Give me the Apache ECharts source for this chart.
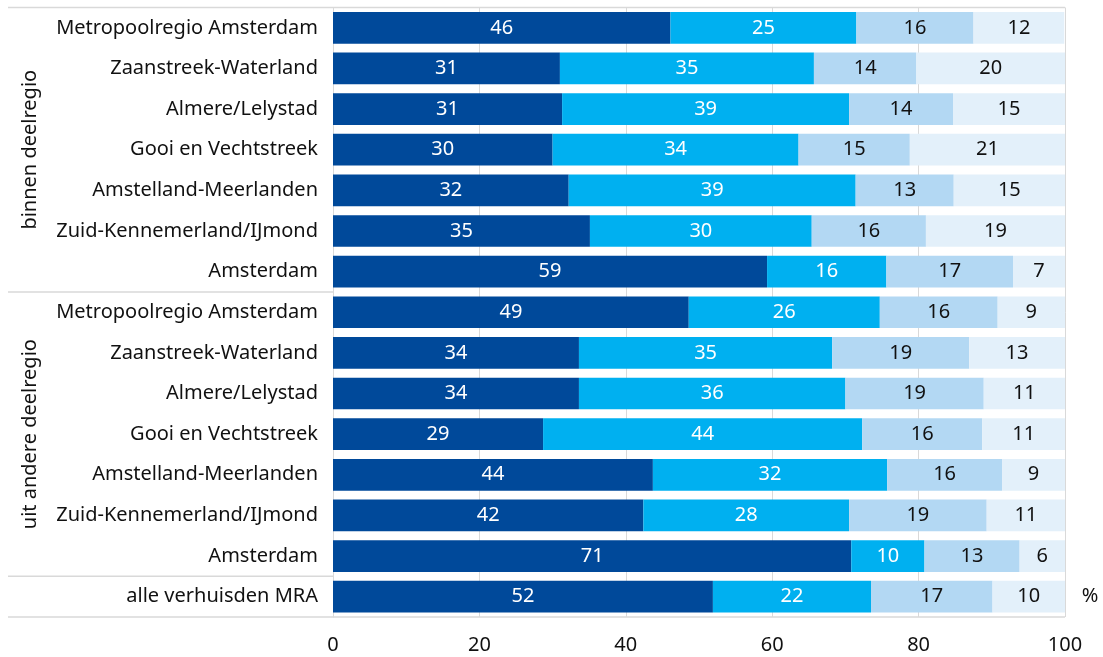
<!DOCTYPE html>
<html>
<head>
<meta charset="utf-8">
<script src="https://cdn.jsdelivr.net/npm/echarts@6/dist/echarts.min.js"></script>
<style>
html,body{margin:0;padding:0;background:#fff;}
#c{width:1103px;height:657px;}
</style>
</head>
<body>
<div id="c"></div>
<script>
const categories = [
  'Metropoolregio Amsterdam','Zaanstreek-Waterland','Almere/Lelystad','Gooi en Vechtstreek',
  'Amstelland-Meerlanden','Zuid-Kennemerland/IJmond','Amsterdam',
  'Metropoolregio Amsterdam','Zaanstreek-Waterland','Almere/Lelystad','Gooi en Vechtstreek',
  'Amstelland-Meerlanden','Zuid-Kennemerland/IJmond','Amsterdam',
  'alle verhuisden MRA'
];
const groupNames = ['binnen deelregio', 'uit andere deelregio'];
const groupStart = [0, 7];
const groupEnd = [6, 13];
const xTicks = [0, 20, 40, 60, 80, 100];

const serie1 = [46.1, 31.0, 31.3, 30.0, 32.2, 35.1, 59.3, 48.6, 33.6, 33.6, 28.7, 43.7, 42.4, 70.8, 51.9];
const serie2 = [25.4, 34.7, 39.2, 33.6, 39.2, 30.3, 16.3, 26.1, 34.6, 36.4, 43.6, 32.0, 28.1, 10.0, 21.6];
const serie3 = [16.0, 14.0, 14.2, 15.2, 13.4, 15.6, 17.3, 16.1, 18.7, 18.9, 16.4, 15.7, 18.8, 13.0, 16.6];
const serie4 = [12.4, 20.3, 15.3, 21.2, 15.2, 19.0, 7.1, 9.2, 13.1, 11.1, 11.3, 8.6, 10.7, 6.2, 9.9];

const colors = ['#00499A', '#00B0F0', '#B3D8F3', '#E3F0FA'];
const labelColors = ['#ffffff', '#ffffff', '#111111', '#111111'];
const FONT = 'Noto Sans';
const FS = 20;

const chart = echarts.init(document.getElementById('c'), null, {renderer: 'canvas'});

function mkSeries(data, i) {
  return {
    type: 'bar',
    stack: 'total',
    data: data,
    barCategoryGap: '22%',
    itemStyle: {color: colors[i]},
    label: {
      show: true,
      position: 'inside',
      color: labelColors[i],
      fontFamily: FONT,
      fontSize: FS,
      formatter: p => String(Math.round(p.value))
    },
    emphasis: {disabled: true},
    animation: false
  };
}

chart.setOption({
  animation: false,
  grid: {left: 333, right: 38, top: 7.5, bottom: 40, containLabel: false},
  xAxis: {
    type: 'value', min: 0, max: 100, interval: 20,
    axisLine: {show: false},
    axisTick: {show: false},
    splitLine: {show: true, lineStyle: {color: '#d9d9d9', width: 1}},
    axisLabel: {
      color: '#111', fontFamily: FONT, fontSize: FS, margin: 18,
      formatter: v => xTicks.indexOf(v) >= 0 ? String(v) : ''
    }
  },
  yAxis: {
    type: 'category', inverse: true, data: categories,
    axisLine: {show: true, lineStyle: {color: '#d9d9d9', width: 1}},
    axisTick: {show: false},
    axisLabel: {color: '#111', fontFamily: FONT, fontSize: FS, margin: 15}
  },
  series: [mkSeries(serie1, 0), mkSeries(serie2, 1), mkSeries(serie3, 2), mkSeries(serie4, 3)]
});

// structural decorations computed from the axes
const yc = i => chart.convertToPixel({yAxisIndex: 0}, i);
const x0 = chart.convertToPixel({xAxisIndex: 0}, 0);
const x100 = chart.convertToPixel({xAxisIndex: 0}, 100);
const pitch = yc(1) - yc(0);
const topY = yc(0) - pitch / 2;
const botY = yc(categories.length - 1) + pitch / 2;
const lineStyle = {stroke: '#d9d9d9', lineWidth: 1.5};
const elements = [];
elements.push({type: 'line', shape: {x1: 8, y1: topY, x2: x100, y2: topY}, style: lineStyle, silent: true});
elements.push({type: 'line', shape: {x1: 8, y1: botY, x2: x100, y2: botY}, style: lineStyle, silent: true});
for (let g = 0; g < groupNames.length; g++) {
  const yb = yc(groupEnd[g]) + pitch / 2;
  elements.push({type: 'line', shape: {x1: 8, y1: yb, x2: x0, y2: yb}, style: lineStyle, silent: true});
  const ym = (yc(groupStart[g]) + yc(groupEnd[g])) / 2;
  elements.push({
    type: 'text', x: 30, y: ym, rotation: Math.PI / 2, silent: true,
    style: {text: groupNames[g], fill: '#111', font: FS + 'px "' + FONT + '"', align: 'center', verticalAlign: 'middle'}
  });
}
elements.push({
  type: 'text', x: x100 + 25, y: yc(categories.length - 1), silent: true,
  style: {text: '%', fill: '#111', font: FS + 'px "' + FONT + '"', align: 'center', verticalAlign: 'middle'}
});
chart.setOption({graphic: {elements: elements}});
</script>
</body>
</html>
